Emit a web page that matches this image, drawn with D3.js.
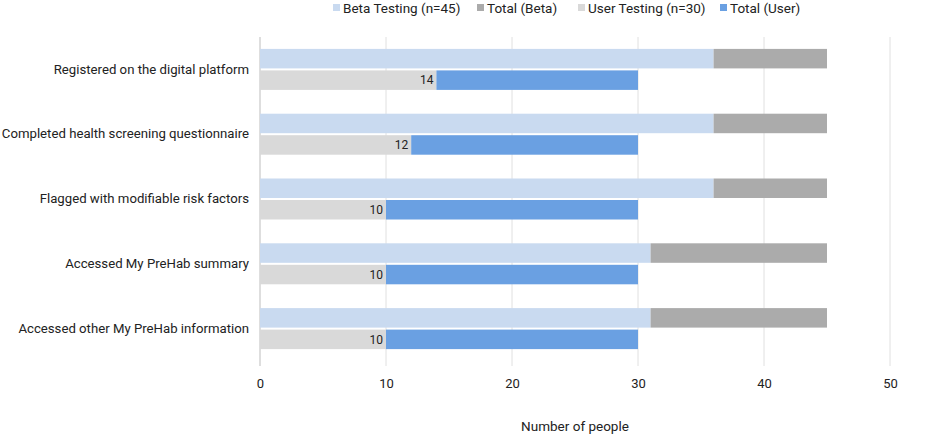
<!DOCTYPE html>
<html><head><meta charset="utf-8">
<script src="https://cdn.jsdelivr.net/npm/d3@7"></script>
<style>body{margin:0;background:#fff;font-family:Roboto,sans-serif}</style>
</head><body><svg id="c" width="945" height="436"></svg>
<script>
const categories = ["Registered on the digital platform","Completed health screening questionnaire","Flagged with modifiable risk factors","Accessed My PreHab summary","Accessed other My PreHab information"];
const betaTesting = [36,36,36,31,31];
const totalBeta = [9,9,9,14,14];
const userTesting = [14,12,10,10,10];
const totalUser = [16,18,20,20,20];
const seriesNames = ["Beta Testing (n=45)","Total (Beta)","User Testing (n=30)","Total (User)"];
const xTicks = [0,10,20,30,40,50];

const colors = ["#c9daf0","#ababab","#d9d9d9","#6aa0e2"];
const svg = d3.select("#c");
const x = d3.scaleLinear().domain([0,50]).range([260,890]);
const y = d3.scaleBand().domain(categories).range([37,361]);

// grid
svg.append("g").selectAll("line").data(xTicks).join("line")
  .attr("x1",d=>x(d)).attr("x2",d=>x(d)).attr("y1",37).attr("y2",366)
  .attr("stroke",d=>d===0?"#bdbdbd":"#e0e0e0").attr("stroke-width",1);

// x axis labels
const ax = svg.append("g").attr("transform","translate(0,379)")
  .call(d3.axisBottom(x).tickValues(xTicks).tickSize(0).tickPadding(0));
ax.select(".domain").remove();
ax.selectAll("text").attr("font-family","Roboto,sans-serif").attr("font-size",13).attr("fill","#222");

svg.append("text").attr("x",x(25)).attr("y",431).attr("text-anchor","middle")
  .attr("font-family","Roboto,sans-serif").attr("font-size",13.5).attr("fill","#222").text("Number of people");

// category labels
const ay = svg.append("g").attr("transform","translate(249,0)")
  .call(d3.axisLeft(y).tickSize(0).tickPadding(0));
ay.select(".domain").remove();
ay.selectAll("text").attr("font-family","Roboto,sans-serif").attr("font-size",13.2).attr("fill","#222");

const bh = 19.5, gap = 2;
const rows = categories.map((c,i)=>({c,i}));
const g = svg.append("g");
// beta bars
g.selectAll(".b1").data(rows).join("rect")
  .attr("x",d=>x(0)).attr("width",d=>x(betaTesting[d.i])-x(0))
  .attr("y",d=>y(d.c)+y.bandwidth()/2-gap/2-bh).attr("height",bh).attr("fill",colors[0]);
g.selectAll(".b2").data(rows).join("rect")
  .attr("x",d=>x(betaTesting[d.i])).attr("width",d=>x(betaTesting[d.i]+totalBeta[d.i])-x(betaTesting[d.i]))
  .attr("y",d=>y(d.c)+y.bandwidth()/2-gap/2-bh).attr("height",bh).attr("fill",colors[1]);
g.selectAll(".u1").data(rows).join("rect")
  .attr("x",d=>x(0)).attr("width",d=>x(userTesting[d.i])-x(0))
  .attr("y",d=>y(d.c)+y.bandwidth()/2+gap/2).attr("height",bh).attr("fill",colors[2]);
g.selectAll(".u2").data(rows).join("rect")
  .attr("x",d=>x(userTesting[d.i])).attr("width",d=>x(userTesting[d.i]+totalUser[d.i])-x(userTesting[d.i]))
  .attr("y",d=>y(d.c)+y.bandwidth()/2+gap/2).attr("height",bh).attr("fill",colors[3]);
g.selectAll(".lbl").data(rows).join("text")
  .attr("x",d=>x(userTesting[d.i])-3).attr("y",d=>y(d.c)+y.bandwidth()/2+gap/2+bh/2)
  .attr("dy","0.35em").attr("text-anchor","end")
  .attr("font-family","Roboto,sans-serif").attr("font-size",12).attr("fill","#222")
  .text(d=>userTesting[d.i]);

// legend
const legX = [333,477,578,720];
const lg = svg.append("g");
seriesNames.forEach((n,i)=>{
  lg.append("rect").attr("x",legX[i]).attr("y",4).attr("width",7).attr("height",7).attr("fill",colors[i]);
  lg.append("text").attr("x",legX[i]+10).attr("y",8).attr("dy","0.35em")
    .attr("font-family","Roboto,sans-serif").attr("font-size",13.5).attr("fill","#222").text(n);
});
</script></body></html>
